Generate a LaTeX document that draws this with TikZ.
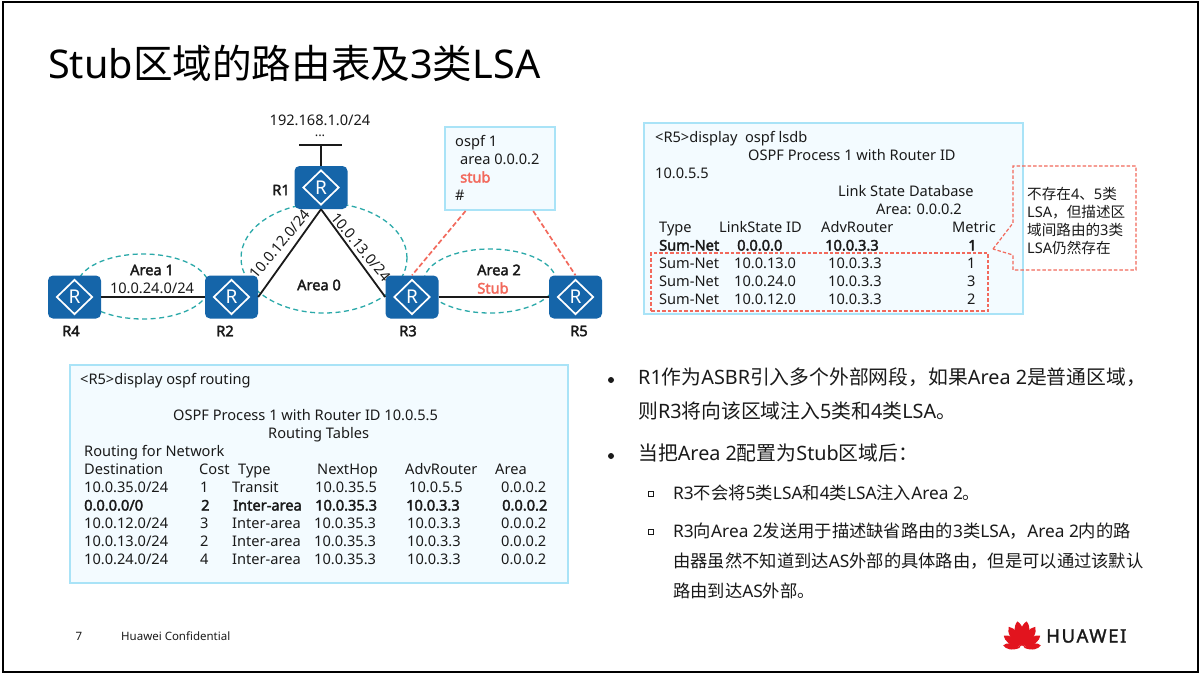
\documentclass[tikz,border=0pt]{standalone}
\usepackage{fontspec}
\setmainfont{Noto Sans}[BoldFont={Noto Sans},BoldFeatures={FakeBold=2.4}]
\newfontfamily\cjk{Noto Sans CJK SC}
\newfontfamily\brandfont{Noto Sans}[FakeBold=1.6,LetterSpace=9]
\usetikzlibrary{calc,shapes.geometric}
\definecolor{rtrblue}{HTML}{1565A9}
\definecolor{areateal}{HTML}{2BA9A9}
\definecolor{stubred}{HTML}{F2695C}
\definecolor{boxline}{HTML}{A9E3F7}
\definecolor{boxfill}{HTML}{F3FBFF}
\definecolor{inktxt}{HTML}{1A1A1A}
\definecolor{logored}{HTML}{E2141E}
\newcommand{\zh}[1]{{\cjk #1}}
\tikzset{
rtr/.style={fill=rtrblue,rounded corners=5pt,minimum width=53,minimum height=43,inner sep=0},
rdia/.style={diamond,draw=white,line width=1.7,minimum width=36,minimum height=35,inner sep=0,aspect=1,text=white,font=\fontsize{19}{19}\selectfont},
area/.style={ellipse,draw=areateal,line width=1.3,dash pattern=on 5 off 3.5,inner sep=0},
link/.style={line width=1.8,inktxt},
stubline/.style={stubred,line width=1.7,dash pattern=on 5 off 2.5},
cfgbox/.style={draw=boxline,fill=boxfill,line width=2,inner sep=0},
lbl/.style={font=\fontsize{14.6}{18}\selectfont,text=inktxt,inner sep=0},
cmd/.style={lbl,anchor=west,text height=14,text depth=3},
cmdb/.style={cmd,font=\fontsize{14.6}{18}\bfseries\selectfont},
rname/.style={font=\fontsize{14.6}{18}\bfseries\selectfont,text=inktxt,inner sep=0},
para/.style={anchor=north west,inner sep=0,text=inktxt,align=left,font=\fontsize{19.8}{34}\selectfont},
subpara/.style={anchor=north west,inner sep=0,text=inktxt,align=left,font=\fontsize{17.3}{30}\selectfont}
}
\begin{document}
\begin{tikzpicture}[x=1pt,y=-1pt]
\useasboundingbox (0,0) rectangle (1200,675);
\fill[white] (0,0) rectangle (1200,675);
\node[draw=black,line width=2,minimum width=1195,minimum height=670,inner sep=0] (frame) at (600,337) {};
\node[anchor=base west,inner sep=0,text=black,font=\fontsize{39.6}{39}\selectfont] (title) at (48,78) {Stub\zh{区域的路由表及}3\zh{类}LSA};
\node[area,minimum width=132,minimum height=65] (area1) at (143,286.5) {};
\node[area,minimum width=166,minimum height=110] (area0) at (324,258) {};
\node[area,minimum width=132,minimum height=64] (area2) at (490,281) {};
\foreach \n/\x/\y in {R1/321/187.5,R2/231.5/297,R3/412/297,R4/74.5/297,R5/575.5/297}{
\node[rtr] (\n) at (\x,\y) {};
\node[rdia] (\n d) at (\n) {R};
}
\draw[link] (R1.south)--(R2.east);\draw[link] (R1.south)--(R3.west);
\draw[link] (R4)--(R2);\draw[link] (R3)--(R5);
\coordinate (barc) at (321,145);\coordinate (barl) at (299,145);\coordinate (barr) at (342,145);
\draw[link,line width=1.3] (R1)--(barc);\draw[link,line width=1.3] (barl)--(barr);
\node[lbl] (lan) at (320,120) {192.168.1.0/24};
\node[lbl,font=\fontsize{13}{13}\selectfont] (landots) at (320,136) {...};
\node[rname] (nR1) at (281,190) {R1};
\node[rname] (nR4) at (71,331) {R4};
\node[rname] (nR2) at (225,331) {R2};
\node[rname] (nR3) at (408,331) {R3};
\node[rname] (nR5) at (579,331) {R5};
\node[rname] (lbA1) at (152,270) {Area 1};
\node[rname] (lbA0) at (319,285) {Area 0};
\node[rname] (lbA2) at (499,270) {Area 2};
\node[rname,text=stubred] (lbStub) at (493,288) {Stub};
\node[lbl] (net24) at (152,288) {10.0.24.0/24};
\node[lbl,rotate=50] (net12) at (280,244) {10.0.12.0/24};
\node[lbl,rotate=-50] (net13) at (361,247) {10.0.13.0/24};
\node[cfgbox,minimum width=110,minimum height=83] (ospfcfg) at (500,168.5) {};
\draw[stubline] (ospfcfg.231.5)--(R3.north);\draw[stubline] (ospfcfg.308.5)--(R5.north);
\node[cmd] (cfg1) at (455,141) {ospf 1};
\node[cmd] (cfg2) at (460,159) {area 0.0.0.2};
\node[cmdb,text=stubred] (cfg3) at (460,177) {stub};
\node[cmd] (cfg4) at (455,195) {\#};
\node[cfgbox,minimum width=379,minimum height=191] (lsdbbox) at (833.5,218.5) {};
\node[cmd] (ls1) at (655,137) {<R5>display\ \ ospf lsdb};
\node[cmd] (ls2) at (748,155) {OSPF Process 1 with Router ID};
\node[cmd] (ls3) at (655,173) {10.0.5.5};
\node[cmd] (ls4) at (838,191) {Link State Database};
\node[cmd] (ls5) at (876,209) {Area: 0.0.0.2};
\node[cmd] (lsh1) at (659,227) {Type};
\node[cmd] (lsh2) at (719,227) {LinkState ID};
\node[cmd] (lsh3) at (821,227) {AdvRouter};
\node[cmd] (lsh4) at (952,227) {Metric};
\node[cmdb] (lsd1) at (659,245) {Sum-Net};
\node[cmdb] (lsd2) at (737,245) {0.0.0.0};
\node[cmdb] (lsd3) at (825,245) {10.0.3.3};
\node[cmdb] (lsd4) at (968,245) {1};
\foreach \y/\d/\m [count=\i] in {263/10.0.13.0/1,281/10.0.24.0/3,299/10.0.12.0/2}{
\node[cmd] (lsa\i) at (659,\y) {Sum-Net};
\node[cmd] (lsb\i) at (734,\y) {\d};
\node[cmd] (lsc\i) at (828,\y) {10.0.3.3};
\node[cmd] (lsm\i) at (967,\y) {\m};
}
\node[draw=stubred,line width=1.2,dash pattern=on 3.5 off 2,minimum width=337,minimum height=58,inner sep=0] (sumbox) at (819.5,282) {};
\coordinate (tip) at (993,249);
\draw[stubred,line width=1.2,dash pattern=on 3.5 off 2] (tip)--(1013,223)--(1013,166)--(1136,166)--(1136,270)--(1013,270)--(1013,255)--cycle;
\node[anchor=north west,inner sep=0,text=inktxt,align=left,font=\fontsize{14.6}{18}\selectfont] (note) at (1027,187) {\zh{不存在}4\zh{、}5\zh{类}\\LSA\zh{，但描述区}\\\zh{域间路由的}3\zh{类}\\LSA\zh{仍然存在}};
\node[cfgbox,minimum width=498,minimum height=218] (routebox) at (319,474) {};
\node[cmd] (rt1) at (80,379) {<R5>display ospf routing};
\node[cmd] (rt2) at (173,415) {OSPF Process 1 with Router ID 10.0.5.5};
\node[cmd] (rt3) at (268,433) {Routing Tables};
\node[cmd] (rt4) at (84,451) {Routing for Network};
\foreach \x/\t [count=\i] in {84/Destination,199/Cost,238/Type,317/NextHop,405/AdvRouter,495/Area}{
\node[cmd] (rth\i) at (\x,469) {\t};
}
\foreach \y/\d/\c/\ty/\n/\a/\nx/\ax [count=\i] in {487/{10.0.35.0/24}/1/Transit/10.0.35.5/10.0.5.5/315/409,523/{10.0.12.0/24}/3/Inter-area/10.0.35.3/10.0.3.3/314/407,541/{10.0.13.0/24}/2/Inter-area/10.0.35.3/10.0.3.3/314/407,559/{10.0.24.0/24}/4/Inter-area/10.0.35.3/10.0.3.3/314/407}{
\node[cmd] (rta\i) at (84,\y) {\d};
\node[cmd] (rtb\i) at (200,\y) {\c};
\node[cmd] (rtc\i) at (232,\y) {\ty};
\node[cmd] (rtd\i) at (\nx,\y) {\n};
\node[cmd] (rte\i) at (\ax,\y) {\a};
\node[cmd] (rtf\i) at (501,\y) {0.0.0.2};
}
\node[cmdb] (rtg1) at (84,505) {0.0.0.0/0};
\node[cmdb] (rtg2) at (201,505) {2};
\node[cmdb] (rtg3) at (233,505) {Inter-area};
\node[cmdb] (rtg4) at (315,505) {10.0.35.3};
\node[cmdb] (rtg5) at (406,505) {10.0.3.3};
\node[cmdb] (rtg6) at (502,505) {0.0.0.2};
\node[circle,fill=inktxt,minimum size=6,inner sep=0] (bul1) at (611,380) {};
\node[para] (txt1) at (638,368) {R1\zh{作为}ASBR\zh{引入多个外部网段，如果}Area 2\zh{是普通区域，}\\\zh{则}R3\zh{将向该区域注入}5\zh{类和}4\zh{类}LSA\zh{。}};
\node[circle,fill=inktxt,minimum size=6,inner sep=0] (bul2) at (611,456) {};
\node[para] (txt2) at (638,444) {\zh{当把}Area 2\zh{配置为}Stub\zh{区域后：}};
\node[draw=inktxt,line width=1,minimum size=5.5,inner sep=0] (bul3) at (651,494) {};
\node[subpara] (txt3) at (673,485) {R3\zh{不会将}5\zh{类}LSA\zh{和}4\zh{类}LSA\zh{注入}Area 2\zh{。}};
\node[draw=inktxt,line width=1,minimum size=5.5,inner sep=0] (bul4) at (651,532) {};
\node[subpara] (txt4) at (673,523) {R3\zh{向}Area 2\zh{发送用于描述缺省路由的}3\zh{类}LSA\zh{，}Area 2\zh{内的路}\\\zh{由器虽然不知道到达}AS\zh{外部的具体路由，但是可以通过该默认}\\\zh{路由到达}AS\zh{外部。}};
\node[lbl,font=\fontsize{11.5}{12}\selectfont] (pagenum) at (79,636) {7};
\node[lbl,anchor=west,font=\fontsize{11.5}{12}\selectfont] (conf) at (121,636) {Huawei Confidential};
\foreach \a/\l in {-82/19,-56/22,-32/25,-10/27,10/27,32/25,56/22,82/19}{
\fill[logored,rotate around={\a:(1022,648)}] (1022,646) .. controls ($(1022,648)+(-0.24*\l,-0.5*\l)$) and ($(1022,648)+(-0.18*\l,-0.85*\l)$) .. ($(1022,648)+(0,-\l)$) .. controls ($(1022,648)+(0.18*\l,-0.85*\l)$) and ($(1022,648)+(0.24*\l,-0.5*\l)$) .. (1022,646);
}
\node[anchor=west,inner sep=0,text=inktxt,font=\fontsize{18.5}{20}\brandfont] (brand) at (1046,636) {HUAWEI};
\end{tikzpicture}
\end{document}
